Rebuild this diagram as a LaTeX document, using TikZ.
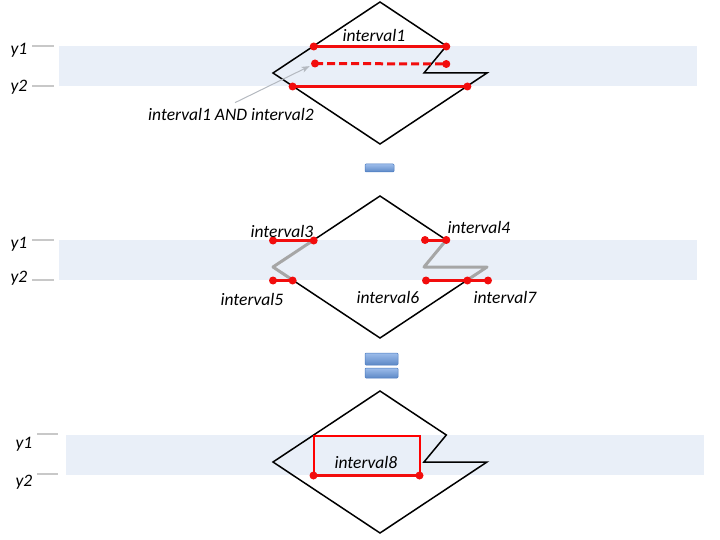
\documentclass[tikz,border=0pt]{standalone}
\usepackage{fontspec}
\setmainfont{Carlito}
\usepackage{xcolor}
\usepackage{tikz}
\usetikzlibrary{arrows.meta, calc}
\definecolor{laneblue}{HTML}{E9EFF8}
\definecolor{axistick}{HTML}{C8C8C8}
\definecolor{hit}{HTML}{F20D0D}
\definecolor{trace}{HTML}{A6A6A6}
\definecolor{pointer}{HTML}{B4B9C0}
\definecolor{opfill}{HTML}{9DBDEB}
\definecolor{opdraw}{HTML}{4A7BC0}

\tikzset{
  lbl/.style={font=\fontsize{17.5}{20}\selectfont\itshape, inner sep=2pt},
  ival/.style={draw=hit, line width=3pt},
  dot/.style={circle, fill=hit, inner sep=0pt, minimum size=8pt},
  outline/.style={black, line width=1.5pt, line join=miter},
  greyrun/.style={trace, line width=3pt, line join=round},
  axisrule/.style={axistick, line width=1.5pt},
  opbox/.style={top color=opfill, bottom color=opdraw!90, draw=opdraw, rounded corners=1pt, line width=0.5pt},
}

\begin{document}
\begin{tikzpicture}[x=1pt, y=-1pt]
  \useasboundingbox (0,0) rectangle (720,540);

  % first query: interval1 against interval2
  \fill[laneblue] (59,46) rectangle (697,86);
  \draw[axisrule] (32,46) -- (54,46) (32,86) -- (54,86);
  \node[lbl] (ya) at (19,50) {y1};
  \node[lbl] (yb) at (19,87) {y2};
  \draw[outline] (380,2) -- (446.3,46) -- (424,73) -- (487,73) -- (380,144) -- (273,73) -- cycle;
  \node[dot] (d1a) at (313.7,46.5) {}; \node[dot] (d1b) at (446.3,46.5) {};
  \node[dot] (d2a) at (315,63.5) {}; \node[dot] (d2b) at (446.3,64) {};
  \node[dot] (d3a) at (292.6,86.5) {}; \node[dot] (d3b) at (467.4,86.5) {};
  \draw[ival] (d1a.center) -- (d1b.center);
  \draw[ival, dash pattern=on 8pt off 4pt] (d2a.center) -- (d2b.center);
  \draw[ival] (d3a.center) -- (d3b.center);
  \node[lbl] (int1) at (374,35) {interval1};
  \node[lbl] (andlbl) at (231,114) {interval1 AND interval2};
  \draw[pointer, line width=1pt, -{Stealth[length=8pt, width=6pt, inset=2pt]}, shorten >=6pt]
    ([shift={(4,-3)}]andlbl.north) -- (d2a.center);

  \draw[opbox] (365,164) rectangle (394,172);

  % second query: split into pieces
  \begin{scope}[shift={(0,194)}]
    \fill[laneblue] (59,46) rectangle (697,86);
    \draw[axisrule] (32,46) -- (54,46) (32,86) -- (54,86);
    \node[lbl] (yc) at (19,50) {y1};
    \node[lbl] (yd) at (19,84) {y2};
    \draw[outline] (313.7,46) -- (380,2) -- (446.3,46);
    \draw[outline] (292.6,86) -- (380,144) -- (467.4,86);
    \draw[greyrun] (313.7,46) -- (273,73) -- (292.6,86);
    \draw[greyrun] (446.3,46) -- (424,73) -- (487,73) -- (467.4,86);
    \node[dot] (d4a) at (273,46.5) {}; \node[dot] (d4b) at (313.7,46.5) {};
    \node[dot] (d5a) at (425,46) {}; \node[dot] (d5b) at (446.3,46) {};
    \node[dot] (d6a) at (273,86.5) {}; \node[dot] (d6b) at (292.6,86.5) {};
    \node[dot] (d7a) at (426,86.5) {}; \node[dot] (d7b) at (467.4,86.5) {};
    \node[dot] (d8b) at (488,86.5) {};
    \draw[ival] (d4a.center) -- (d4b.center);
    \draw[ival] (d5a.center) -- (d5b.center);
    \draw[ival] (d6a.center) -- (d6b.center);
    \draw[ival] (d7a.center) -- (d7b.center);
    \draw[ival] (d7b.center) -- (d8b.center);
    \node[lbl] (int3) at (282,37.5) {interval3};
    \node[lbl] (int4) at (479,33.5) {interval4};
    \node[lbl] (int5) at (252,105.5) {interval5};
    \node[lbl] (int6) at (388,103) {interval6};
    \node[lbl] (int7) at (505,103) {interval7};
  \end{scope}

  \draw[opbox] (365,353) rectangle (398,365);
  \draw[opbox] (365,368) rectangle (398,378);

  % result: one box
  \begin{scope}[shift={(0,389)}]
    \fill[laneblue] (66,46) rectangle (704,86);
    \draw[axisrule] (37,45) -- (58,45) (37,85) -- (58,85);
    \node[lbl] (ye) at (24,55) {y1};
    \node[lbl] (yf) at (24,93) {y2};
    \draw[outline] (380,2) -- (446.3,46) -- (424,73) -- (487,73) -- (380,144) -- (273,73) -- cycle;
    \draw[red, line width=2pt] (313.5,46.5) -- (419.5,46.5) -- (419.5,86.5) -- (313.5,86.5) -- cycle;
    \node[dot] (d9a) at (313.5,86.5) {}; \node[dot] (d9b) at (419.5,86.5) {};
    \draw[ival] (d9a.center) -- (d9b.center);
    \node[lbl] (int8) at (366,73) {interval8};
  \end{scope}
\end{tikzpicture}
\end{document}
